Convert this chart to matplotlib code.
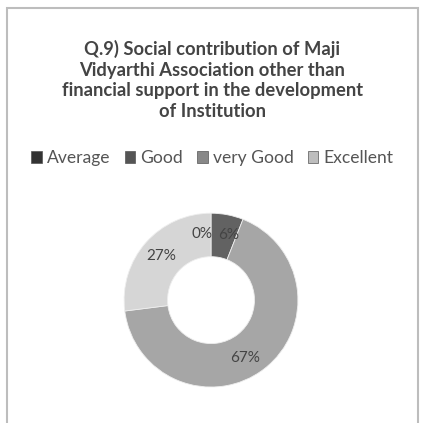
import numpy as np
import matplotlib.pyplot as plt
from matplotlib.patches import Rectangle, Patch
#------------------------------------------------------------

categories = ["Average", "Good", "very Good", "Excellent"]
values = [0, 6, 67, 27]
labels = ["0%", "6%", "67%", "27%"]
title = ("Q.9) Social contribution of Maji\nVidyarthi Association other than\n"
         "financial support in the development\nof Institution")

colors = ["#3a3a3a", "#626262", "#a6a6a6", "#d6d6d6"]
legend_cols = ["#333333", "#555555", "#888888", "#bdbdbd"]

fig = plt.figure(figsize=(4.25, 4.23), dpi=100)
fig.patch.set_facecolor("white")
# chart frame from the scan
fig.patches.append(Rectangle((0.016, -0.01), 0.968, 0.99, transform=fig.transFigure,
                             fill=False, edgecolor="#bdbdbd", linewidth=1.5))

fig.text(0.5, 0.811, title, ha="center", va="center", fontsize=13.2,
         fontweight="bold", family="Lato", color="#444444", linespacing=1.24)

ax = fig.add_axes([0.292, 0.085, 0.409, 0.411])
wedges, _ = ax.pie(values, colors=colors, startangle=90, counterclock=False,
                   wedgeprops=dict(width=0.5, edgecolor="#eeeeee", linewidth=0.6))
ax.set_xlim(-1, 1)
ax.set_ylim(-1, 1)
ax.set_aspect("equal")

# data labels inside the ring
r_lab = 0.76
start = 90.0
for v, lab in zip(values, labels):
    ang = np.deg2rad(start - 360 * v / 200.0)
    start -= 360 * v / 100.0
    x, y = r_lab * np.cos(ang), r_lab * np.sin(ang)
    ha = "center"
    if lab == "0%":
        x, ha = x + 0.02, "right"
    if lab == "6%":
        x += 0.06
    if lab == "67%":
        x, y = x - 0.07, y - 0.06
    ax.text(x, y, lab, ha=ha, va="center", fontsize=11,
            family="Lato", color="#444444")

handles = [Patch(facecolor=c, edgecolor="#555555", linewidth=0.5) for c in legend_cols]
fig.legend(handles, categories, loc="center", bbox_to_anchor=(0.5, 0.626), ncol=4,
           frameon=False, handlelength=0.6, handleheight=0.6,
           handletextpad=0.3, columnspacing=0.8, prop=dict(family="Lato", size=12.6))
for t in fig.legends[0].get_texts():
    t.set_color("#555555")

fig.savefig("out.png", dpi=100)
plt.close()
#---------------------------------------------------
